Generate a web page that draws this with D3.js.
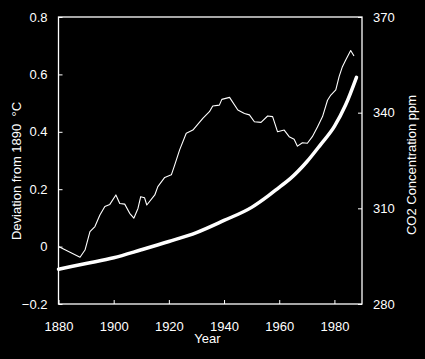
<!DOCTYPE html>
<html>
<head>
<meta charset="utf-8">
<script src="https://cdn.jsdelivr.net/npm/d3@7"></script>
<style>
  html, body { margin: 0; padding: 0; background: #000; }
  svg { display: block; }
  text { font-family: "Liberation Sans", Arial, sans-serif; fill: #fff; }
</style>
</head>
<body>
<svg id="canvas" width="425" height="359"></svg>
<script>
// temperature deviation from 1890 (°C)
let tempYears = [1880, 1887.8, 1889.6, 1891.4, 1893.2, 1895, 1896.8, 1898.6, 1900.8, 1902.2, 1904, 1905.8, 1907.3, 1908.8, 1909.8, 1911.2, 1912, 1914.9, 1916, 1918.5, 1920.9, 1922.1, 1923.9, 1926.3, 1928.7, 1932.3, 1934.7, 1935.9, 1938.3, 1939.2, 1942, 1945, 1947.4, 1949.2, 1951, 1953.4, 1955.8, 1957.6, 1959.4, 1961.8, 1963.6, 1965.4, 1966.6, 1968.4, 1970.2, 1972, 1973.9, 1975.7, 1977.5, 1978.7, 1980.5, 1981.7, 1982.9, 1984.1, 1985.9, 1987.1]
let tempValues = [0.0, -0.037, -0.012, 0.052, 0.07, 0.11, 0.14, 0.147, 0.18, 0.15, 0.148, 0.116, 0.099, 0.133, 0.174, 0.17, 0.145, 0.18, 0.209, 0.241, 0.25, 0.284, 0.337, 0.395, 0.406, 0.447, 0.47, 0.49, 0.493, 0.513, 0.52, 0.476, 0.464, 0.459, 0.435, 0.433, 0.455, 0.453, 0.40, 0.406, 0.383, 0.374, 0.35, 0.362, 0.36, 0.383, 0.418, 0.453, 0.51, 0.528, 0.546, 0.592, 0.627, 0.65, 0.683, 0.664]

// CO2 concentration (ppm)
let co2Years = [1880, 1890, 1900, 1910, 1920, 1930, 1940, 1950, 1956, 1960, 1964, 1970, 1975, 1980, 1984, 1988]
let co2Values = [290.9, 292.7, 294.5, 297.0, 299.6, 302.4, 306.2, 310.3, 313.9, 316.6, 319.3, 324.6, 330.0, 335.7, 342.3, 351.1]

let yearTicks = [1880, 1900, 1920, 1940, 1960, 1980]
let tempTicks = [-0.2, 0, 0.2, 0.4, 0.6, 0.8]
let co2Ticks = [280, 310, 340, 370]

let margin = {left: 58.5, right: 63, top: 17, bottom: 55}
let width = 425, height = 359

let svg = d3.select('#canvas')

let x = d3.scaleLinear().domain([1880, 1990]).range([margin.left, width - margin.right])
let yTemp = d3.scaleLinear().domain([-0.2, 0.8]).range([height - margin.bottom, margin.top])
let yCo2 = d3.scaleLinear().domain([280, 370]).range([height - margin.bottom, margin.top])

// axes (ticks point inward)
svg.append('g')
    .attr('transform', 'translate(0,' + (height - margin.bottom) + ')')
    .call(d3.axisBottom(x).tickValues(yearTicks).tickSizeInner(-4).tickSizeOuter(0).tickPadding(18).tickFormat(d3.format('d')))

svg.append('g')
    .attr('transform', 'translate(' + margin.left + ',0)')
    .call(d3.axisLeft(yTemp).tickValues(tempTicks).tickSizeInner(-4).tickSizeOuter(0).tickPadding(11)
        .tickFormat((d) => d === 0 ? '0' : d3.format('.1f')(d)))

svg.append('g')
    .attr('transform', 'translate(' + (width - margin.right) + ',0)')
    .call(d3.axisRight(yCo2).tickValues(co2Ticks).tickSizeInner(-4).tickSizeOuter(0).tickPadding(11))

svg.selectAll('.domain').remove()
svg.selectAll('.tick line').attr('stroke', '#fff').attr('stroke-width', 1)
svg.selectAll('.tick text').attr('fill', '#fff').style('font-size', '13px')
    .style('font-family', '"Liberation Sans", Arial, sans-serif')

// plot frame
svg.append('rect')
    .attr('x', x(1880))
    .attr('y', yTemp(0.8))
    .attr('width', x(1990) - x(1880))
    .attr('height', yTemp(-0.2) - yTemp(0.8))
    .attr('fill', 'none')
    .attr('stroke', '#fff')
    .attr('stroke-width', 1.3)

// lines
let tempLine = d3.line()
    .x((d, i) => x(tempYears[i]))
    .y((d) => yTemp(d))

let co2Line = d3.line()
    .curve(d3.curveMonotoneX)
    .x((d, i) => x(co2Years[i]))
    .y((d) => yCo2(d))

svg.append('path')
    .datum(tempValues)
    .attr('d', tempLine)
    .attr('fill', 'none')
    .attr('stroke', '#fff')
    .attr('stroke-width', 1.1)
    .attr('stroke-linejoin', 'round')

svg.append('path')
    .datum(co2Values)
    .attr('d', co2Line)
    .attr('fill', 'none')
    .attr('stroke', '#fff')
    .attr('stroke-width', 3.5)
    .attr('stroke-linecap', 'round')

// titles
svg.append('text')
    .attr('transform', 'translate(21,171) rotate(-90)')
    .attr('text-anchor', 'middle')
    .style('font-size', '13px')
    .style('white-space', 'pre')
    .text('Deviation from 1890  \u00B0C')

svg.append('text')
    .attr('transform', 'translate(416,165) rotate(-90)')
    .attr('text-anchor', 'middle')
    .style('font-size', '13px')
    .text('CO2 Concentration ppm')

svg.append('text')
    .attr('x', 207.5)
    .attr('y', 343)
    .attr('text-anchor', 'middle')
    .style('font-size', '13px')
    .text('Year')
</script>
</body>
</html>
